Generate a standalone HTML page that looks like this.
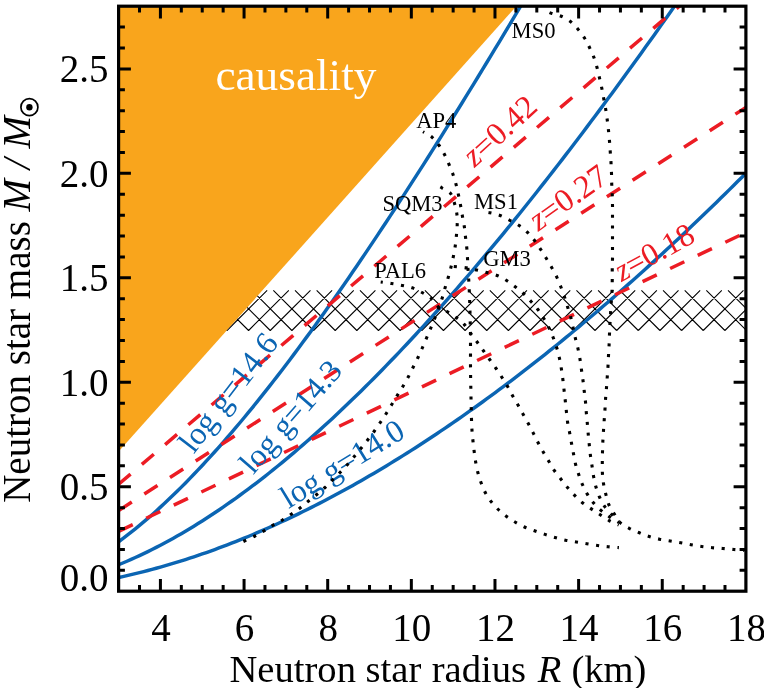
<!DOCTYPE html>
<html lang="en"><head><meta charset="utf-8"><title>Neutron star mass-radius</title>
<style>html,body{margin:0;padding:0;background:#fff}body{width:764px;height:688px;overflow:hidden}svg{display:block;will-change:transform}text{font-family:"Liberation Serif",serif}.tk{font-size:39px;fill:#000}.eos{font-size:22.6px;fill:#000}.bl{fill:#0b65b3}.rd{fill:#ec1c24}</style></head><body>
<svg width="764" height="688" viewBox="0 0 764 688">
<rect width="764" height="688" fill="#fff"/>
<defs><clipPath id="plot"><rect x="118.60" y="6.20" width="627.30" height="585.00"/></clipPath>
<clipPath id="hc"><polygon points="263.44,289.30 745.90,289.30 745.90,331.50 225.73,331.50"/></clipPath></defs>
<polygon points="118.60,6.20 516.40,6.20 118.60,451.40" fill="#f9a51c"/>
<path d="M183.65 330.50 L223.85 290.30 M183.65 330.50 L143.45 290.30 M205.30 330.50 L245.50 290.30 M205.30 330.50 L165.10 290.30 M226.95 330.50 L267.15 290.30 M226.95 330.50 L186.75 290.30 M248.60 330.50 L288.80 290.30 M248.60 330.50 L208.40 290.30 M270.25 330.50 L310.45 290.30 M270.25 330.50 L230.05 290.30 M291.90 330.50 L332.10 290.30 M291.90 330.50 L251.70 290.30 M313.55 330.50 L353.75 290.30 M313.55 330.50 L273.35 290.30 M335.20 330.50 L375.40 290.30 M335.20 330.50 L295.00 290.30 M356.85 330.50 L397.05 290.30 M356.85 330.50 L316.65 290.30 M378.50 330.50 L418.70 290.30 M378.50 330.50 L338.30 290.30 M400.15 330.50 L440.35 290.30 M400.15 330.50 L359.95 290.30 M421.80 330.50 L462.00 290.30 M421.80 330.50 L381.60 290.30 M443.45 330.50 L483.65 290.30 M443.45 330.50 L403.25 290.30 M465.10 330.50 L505.30 290.30 M465.10 330.50 L424.90 290.30 M486.75 330.50 L526.95 290.30 M486.75 330.50 L446.55 290.30 M508.40 330.50 L548.60 290.30 M508.40 330.50 L468.20 290.30 M530.05 330.50 L570.25 290.30 M530.05 330.50 L489.85 290.30 M551.70 330.50 L591.90 290.30 M551.70 330.50 L511.50 290.30 M573.35 330.50 L613.55 290.30 M573.35 330.50 L533.15 290.30 M595.00 330.50 L635.20 290.30 M595.00 330.50 L554.80 290.30 M616.65 330.50 L656.85 290.30 M616.65 330.50 L576.45 290.30 M638.30 330.50 L678.50 290.30 M638.30 330.50 L598.10 290.30 M659.95 330.50 L700.15 290.30 M659.95 330.50 L619.75 290.30 M681.60 330.50 L721.80 290.30 M681.60 330.50 L641.40 290.30 M703.25 330.50 L743.45 290.30 M703.25 330.50 L663.05 290.30 M724.90 330.50 L765.10 290.30 M724.90 330.50 L684.70 290.30 M746.55 330.50 L786.75 290.30 M746.55 330.50 L706.35 290.30 M768.20 330.50 L808.40 290.30 M768.20 330.50 L728.00 290.30" stroke="#000" stroke-width="1.08" fill="none" clip-path="url(#hc)"/>
<text x="215.4" y="89.5" font-size="45.3" fill="#fff">causality</text>
<g clip-path="url(#plot)" fill="none">
<path d="M118.60 541.81 L122.78 538.69 L126.96 535.49 L131.15 532.21 L135.33 528.86 L139.51 525.43 L143.69 521.92 L147.87 518.33 L152.06 514.68 L156.24 510.95 L160.42 507.15 L164.60 503.28 L168.78 499.34 L172.97 495.33 L177.15 491.25 L181.33 487.11 L185.51 482.91 L189.69 478.64 L193.88 474.30 L198.06 469.91 L202.24 465.45 L206.42 460.93 L210.60 456.36 L214.79 451.73 L218.97 447.04 L223.15 442.29 L227.33 437.49 L231.51 432.63 L235.70 427.72 L239.88 422.76 L244.06 417.75 L248.24 412.68 L252.42 407.57 L256.61 402.41 L260.79 397.19 L264.97 391.93 L269.15 386.63 L273.33 381.28 L277.52 375.88 L281.70 370.44 L285.88 364.95 L290.06 359.42 L294.24 353.85 L298.43 348.24 L302.61 342.59 L306.79 336.89 L310.97 331.16 L315.15 325.39 L319.34 319.58 L323.52 313.74 L327.70 307.85 L331.88 301.94 L336.06 295.98 L340.25 289.99 L344.43 283.97 L348.61 277.91 L352.79 271.82 L356.97 265.70 L361.16 259.55 L365.34 253.37 L369.52 247.15 L373.70 240.91 L377.88 234.63 L382.07 228.33 L386.25 222.00 L390.43 215.64 L394.61 209.25 L398.79 202.84 L402.98 196.40 L407.16 189.93 L411.34 183.44 L415.52 176.92 L419.70 170.38 L423.89 163.82 L428.07 157.23 L432.25 150.62 L436.43 143.98 L440.61 137.33 L444.80 130.65 L448.98 123.95 L453.16 117.23 L457.34 110.49 L461.52 103.73 L465.71 96.95 L469.89 90.15 L474.07 83.33 L478.25 76.49 L482.43 69.64 L486.62 62.77 L490.80 55.87 L494.98 48.97 L499.16 42.04 L503.34 35.10 L507.53 28.14 L511.71 21.17 L515.89 14.18 L520.07 7.18 L524.25 0.16 L528.44 -6.87 L532.62 -13.92 L536.80 -20.98 L540.98 -28.06 L545.16 -35.15 L549.35 -42.25 L553.53 -49.36 L557.71 -56.49 L561.89 -63.63 L566.07 -70.78 L570.26 -77.94 L574.44 -85.12 L578.62 -92.31 L582.80 -99.50 L586.98 -106.71 L591.17 -113.93 L595.35 -121.16 L599.53 -128.40 L603.71 -135.64 L607.89 -142.90 L612.08 -150.17 L616.26 -157.45 L620.44 -164.73 L624.62 -172.03 L628.80 -179.33 L632.99 -186.64 L637.17 -193.96 L641.35 -201.29 L645.53 -208.62 L649.71 -215.97 L653.90 -223.32 L658.08 -230.68 L662.26 -238.04 L666.44 -245.41 L670.62 -252.79 L674.81 -260.18 L678.99 -267.57 L683.17 -274.97 L687.35 -282.37 L691.53 -289.79 L695.72 -297.20 L699.90 -304.62 L704.08 -312.05 L708.26 -319.48 L712.44 -326.92 L716.63 -334.37 L720.81 -341.82 L724.99 -349.27 L729.17 -356.73 L733.35 -364.19 L737.54 -371.66 L741.72 -379.13 L745.90 -386.60" stroke="#0b65b3" stroke-width="3.45"/>
<path d="M118.60 564.76 L122.78 563.03 L126.96 561.25 L131.15 559.42 L135.33 557.53 L139.51 555.60 L143.69 553.62 L147.87 551.60 L152.06 549.52 L156.24 547.39 L160.42 545.22 L164.60 543.00 L168.78 540.73 L172.97 538.41 L177.15 536.05 L181.33 533.64 L185.51 531.19 L189.69 528.69 L193.88 526.15 L198.06 523.56 L202.24 520.92 L206.42 518.25 L210.60 515.52 L214.79 512.76 L218.97 509.95 L223.15 507.10 L227.33 504.20 L231.51 501.27 L235.70 498.29 L239.88 495.27 L244.06 492.21 L248.24 489.10 L252.42 485.96 L256.61 482.78 L260.79 479.55 L264.97 476.29 L269.15 472.99 L273.33 469.65 L277.52 466.27 L281.70 462.85 L285.88 459.39 L290.06 455.89 L294.24 452.36 L298.43 448.79 L302.61 445.18 L306.79 441.53 L310.97 437.85 L315.15 434.13 L319.34 430.38 L323.52 426.59 L327.70 422.77 L331.88 418.91 L336.06 415.01 L340.25 411.08 L344.43 407.12 L348.61 403.12 L352.79 399.09 L356.97 395.02 L361.16 390.92 L365.34 386.79 L369.52 382.63 L373.70 378.43 L377.88 374.20 L382.07 369.94 L386.25 365.64 L390.43 361.32 L394.61 356.96 L398.79 352.58 L402.98 348.16 L407.16 343.71 L411.34 339.23 L415.52 334.73 L419.70 330.19 L423.89 325.62 L428.07 321.02 L432.25 316.40 L436.43 311.74 L440.61 307.06 L444.80 302.35 L448.98 297.61 L453.16 292.84 L457.34 288.05 L461.52 283.22 L465.71 278.37 L469.89 273.50 L474.07 268.59 L478.25 263.66 L482.43 258.71 L486.62 253.73 L490.80 248.72 L494.98 243.68 L499.16 238.63 L503.34 233.54 L507.53 228.43 L511.71 223.30 L515.89 218.14 L520.07 212.96 L524.25 207.75 L528.44 202.52 L532.62 197.26 L536.80 191.98 L540.98 186.68 L545.16 181.36 L549.35 176.01 L553.53 170.64 L557.71 165.24 L561.89 159.83 L566.07 154.39 L570.26 148.93 L574.44 143.45 L578.62 137.94 L582.80 132.42 L586.98 126.87 L591.17 121.31 L595.35 115.72 L599.53 110.11 L603.71 104.48 L607.89 98.83 L612.08 93.16 L616.26 87.47 L620.44 81.76 L624.62 76.03 L628.80 70.28 L632.99 64.51 L637.17 58.73 L641.35 52.92 L645.53 47.10 L649.71 41.25 L653.90 35.39 L658.08 29.51 L662.26 23.61 L666.44 17.70 L670.62 11.76 L674.81 5.81 L678.99 -0.16 L683.17 -6.15 L687.35 -12.15 L691.53 -18.17 L695.72 -24.21 L699.90 -30.26 L704.08 -36.34 L708.26 -42.42 L712.44 -48.53 L716.63 -54.65 L720.81 -60.78 L724.99 -66.93 L729.17 -73.10 L733.35 -79.29 L737.54 -85.48 L741.72 -91.70 L745.90 -97.93" stroke="#0b65b3" stroke-width="3.45"/>
<path d="M118.60 577.50 L122.78 576.59 L126.96 575.65 L131.15 574.68 L135.33 573.68 L139.51 572.66 L143.69 571.60 L147.87 570.52 L152.06 569.41 L156.24 568.28 L160.42 567.11 L164.60 565.92 L168.78 564.70 L172.97 563.46 L177.15 562.18 L181.33 560.88 L185.51 559.56 L189.69 558.20 L193.88 556.82 L198.06 555.41 L202.24 553.98 L206.42 552.52 L210.60 551.03 L214.79 549.52 L218.97 547.98 L223.15 546.41 L227.33 544.82 L231.51 543.20 L235.70 541.56 L239.88 539.89 L244.06 538.20 L248.24 536.48 L252.42 534.73 L256.61 532.96 L260.79 531.16 L264.97 529.34 L269.15 527.49 L273.33 525.62 L277.52 523.72 L281.70 521.80 L285.88 519.85 L290.06 517.88 L294.24 515.88 L298.43 513.86 L302.61 511.82 L306.79 509.75 L310.97 507.65 L315.15 505.54 L319.34 503.39 L323.52 501.23 L327.70 499.04 L331.88 496.82 L336.06 494.59 L340.25 492.33 L344.43 490.04 L348.61 487.73 L352.79 485.40 L356.97 483.05 L361.16 480.67 L365.34 478.27 L369.52 475.84 L373.70 473.39 L377.88 470.92 L382.07 468.43 L386.25 465.92 L390.43 463.38 L394.61 460.82 L398.79 458.23 L402.98 455.63 L407.16 453.00 L411.34 450.35 L415.52 447.68 L419.70 444.98 L423.89 442.27 L428.07 439.53 L432.25 436.77 L436.43 433.99 L440.61 431.18 L444.80 428.36 L448.98 425.51 L453.16 422.64 L457.34 419.76 L461.52 416.85 L465.71 413.91 L469.89 410.96 L474.07 407.99 L478.25 404.99 L482.43 401.98 L486.62 398.94 L490.80 395.88 L494.98 392.81 L499.16 389.71 L503.34 386.59 L507.53 383.45 L511.71 380.29 L515.89 377.11 L520.07 373.91 L524.25 370.69 L528.44 367.45 L532.62 364.19 L536.80 360.92 L540.98 357.62 L545.16 354.30 L549.35 350.96 L553.53 347.60 L557.71 344.22 L561.89 340.83 L566.07 337.41 L570.26 333.97 L574.44 330.52 L578.62 327.05 L582.80 323.55 L586.98 320.04 L591.17 316.51 L595.35 312.96 L599.53 309.39 L603.71 305.81 L607.89 302.20 L612.08 298.58 L616.26 294.94 L620.44 291.28 L624.62 287.60 L628.80 283.90 L632.99 280.18 L637.17 276.45 L641.35 272.70 L645.53 268.93 L649.71 265.14 L653.90 261.34 L658.08 257.51 L662.26 253.67 L666.44 249.81 L670.62 245.94 L674.81 242.05 L678.99 238.14 L683.17 234.21 L687.35 230.26 L691.53 226.30 L695.72 222.32 L699.90 218.32 L704.08 214.31 L708.26 210.28 L712.44 206.23 L716.63 202.17 L720.81 198.09 L724.99 193.99 L729.17 189.88 L733.35 185.75 L737.54 181.60 L741.72 177.44 L745.90 173.26" stroke="#0b65b3" stroke-width="3.45"/>
</g>
<g clip-path="url(#plot)" fill="none">
<path d="M118.60 484.24 L745.90 -50.56" stroke="#ec1c24" stroke-width="3.5" stroke-dasharray="15.7 14.85"/>
<path d="M118.60 510.57 L745.90 107.40" stroke="#ec1c24" stroke-width="3.5" stroke-dasharray="15.7 14.85"/>
<path d="M118.60 531.40 L745.90 232.40" stroke="#ec1c24" stroke-width="3.5" stroke-dasharray="15.7 14.85"/>
</g>
<text class="rd" font-size="32.3" transform="translate(474.60 168.00) rotate(-42.30)"><tspan font-style="italic">z</tspan>=0.42</text>
<text class="rd" font-size="32.5" transform="translate(538.20 231.70) rotate(-35.30)"><tspan font-style="italic">z</tspan>=0.27</text>
<text class="rd" font-size="31.8" transform="translate(621.40 282.00) rotate(-28.50)"><tspan font-style="italic">z</tspan>=0.18</text>
<text class="bl" font-size="32.3" transform="translate(193.75 454.45) rotate(-52.30)">log g=14.6</text>
<text class="bl" font-size="31.7" transform="translate(253.30 475.32) rotate(-48.90)">log g=14.3</text>
<text class="bl" font-size="32.0" transform="translate(288.41 508.92) rotate(-31.50)">log g=14.0</text>
<g clip-path="url(#plot)" fill="none">
<path d="M547.00 11.50 C547.83 11.83 549.62 12.71 552.00 13.50 C554.38 14.29 558.12 14.88 561.25 16.25 C564.38 17.62 567.96 19.58 570.75 21.75 C573.54 23.92 575.71 26.54 578.00 29.25 C580.29 31.96 582.58 34.96 584.50 38.00 C586.42 41.04 587.96 44.33 589.50 47.50 C591.04 50.67 592.50 53.67 593.75 57.00 C595.00 60.33 596.04 64.00 597.00 67.50 C597.96 71.00 598.71 74.58 599.50 78.00 C600.29 81.42 601.04 84.54 601.75 88.00 C602.46 91.46 603.08 95.17 603.75 98.75 C604.42 102.33 605.17 105.96 605.75 109.50 C606.33 113.04 606.79 116.50 607.25 120.00 C607.71 123.50 608.12 126.96 608.50 130.50 C608.88 134.04 609.21 137.71 609.50 141.25 C609.79 144.79 610.00 148.18 610.25 151.75 C610.50 155.32 610.79 159.03 611.00 162.70 C611.21 166.37 611.38 170.12 611.50 173.75 C611.62 177.38 611.62 180.96 611.75 184.50 C611.88 188.04 612.12 191.50 612.25 195.00 C612.38 198.50 612.46 201.96 612.50 205.50 C612.54 209.04 612.50 212.67 612.50 216.25 C612.50 219.83 612.50 223.46 612.50 227.00 C612.50 230.54 612.50 233.96 612.50 237.50 C612.50 241.04 612.50 244.67 612.50 248.25 C612.50 251.83 612.54 255.46 612.50 259.00 C612.46 262.54 612.29 265.96 612.25 269.50 C612.21 273.04 612.29 276.62 612.25 280.25 C612.21 283.88 612.16 287.67 612.00 291.25 C611.84 294.83 611.53 298.21 611.30 301.75 C611.07 305.29 610.82 308.92 610.60 312.50 C610.38 316.08 610.18 319.71 610.00 323.25 C609.82 326.79 609.65 330.12 609.50 333.75 C609.35 337.38 609.27 341.38 609.10 345.00 C608.93 348.62 608.68 351.96 608.50 355.50 C608.32 359.04 608.21 362.67 608.00 366.25 C607.79 369.83 607.50 373.46 607.25 377.00 C607.00 380.54 606.77 383.96 606.50 387.50 C606.23 391.04 605.85 394.67 605.60 398.25 C605.35 401.83 605.23 405.46 605.00 409.00 C604.77 412.54 604.50 415.92 604.25 419.50 C604.00 423.08 603.73 426.88 603.50 430.50 C603.27 434.12 603.02 437.67 602.85 441.25 C602.68 444.83 602.59 448.46 602.50 452.00 C602.41 455.54 602.32 458.98 602.30 462.50 C602.28 466.02 602.20 469.58 602.40 473.10 C602.60 476.62 602.93 480.10 603.50 483.60 C604.07 487.10 604.93 490.65 605.80 494.10 C606.67 497.55 607.33 501.07 608.70 504.30 C610.07 507.53 612.18 510.53 614.00 513.50 C615.82 516.47 617.07 519.63 619.60 522.10 C622.13 524.57 625.90 526.52 629.20 528.30 C632.50 530.08 636.07 531.43 639.40 532.80 C642.73 534.17 645.85 535.43 649.20 536.50 C652.55 537.57 656.00 538.45 659.50 539.20 C663.00 539.95 666.67 540.40 670.20 541.00 C673.73 541.60 677.23 542.18 680.70 542.80 C684.17 543.42 687.52 544.08 691.00 544.70 C694.48 545.32 698.05 546.00 701.60 546.50 C705.15 547.00 708.77 547.37 712.30 547.70 C715.83 548.03 719.18 548.20 722.80 548.50 C726.42 548.80 730.38 549.20 734.00 549.50 C737.62 549.80 742.75 550.17 744.50 550.30" stroke="#000" stroke-width="3.1" stroke-dasharray="3.1 7.62" stroke-dashoffset="-2.82"/>
<path d="M481.00 211.50 C482.50 211.72 486.83 212.13 490.00 212.80 C493.17 213.47 496.67 214.22 500.00 215.50 C503.33 216.78 506.88 218.87 510.00 220.50 C513.12 222.13 515.87 223.35 518.75 225.30 C521.63 227.25 524.67 229.67 527.30 232.20 C529.92 234.73 532.25 237.58 534.50 240.50 C536.75 243.42 538.80 246.66 540.80 249.70 C542.80 252.74 544.68 255.78 546.50 258.75 C548.32 261.72 549.97 264.41 551.70 267.50 C553.43 270.59 555.37 274.05 556.90 277.30 C558.43 280.55 559.62 283.68 560.90 287.00 C562.18 290.32 563.47 293.82 564.60 297.20 C565.73 300.58 566.67 303.92 567.70 307.30 C568.73 310.68 569.88 313.97 570.80 317.50 C571.72 321.03 572.47 324.96 573.25 328.50 C574.03 332.04 574.71 335.38 575.50 338.75 C576.29 342.12 577.25 345.33 578.00 348.75 C578.75 352.17 579.42 355.71 580.00 359.25 C580.58 362.79 581.00 366.46 581.50 370.00 C582.00 373.54 582.54 376.96 583.00 380.50 C583.46 384.04 583.83 387.67 584.25 391.25 C584.67 394.83 585.16 398.46 585.50 402.00 C585.84 405.54 586.00 408.97 586.30 412.50 C586.60 416.03 586.97 419.57 587.30 423.20 C587.62 426.82 587.92 430.70 588.25 434.25 C588.58 437.80 588.89 441.01 589.25 444.50 C589.61 447.99 589.94 451.66 590.40 455.20 C590.86 458.74 591.47 462.20 592.00 465.75 C592.53 469.30 592.95 472.99 593.60 476.50 C594.25 480.01 594.92 483.38 595.90 486.80 C596.88 490.22 598.05 493.73 599.50 497.00 C600.95 500.27 602.53 503.47 604.60 506.40 C606.67 509.33 609.50 512.07 611.90 514.60 C614.30 517.13 617.82 520.43 619.00 521.60" stroke="#000" stroke-width="3.1" stroke-dasharray="3.1 7.62" stroke-dashoffset="-7.51"/>
<path d="M453.50 266.40 C455.72 266.65 462.97 267.30 466.80 267.90 C470.63 268.50 473.15 269.22 476.50 270.00 C479.85 270.78 483.48 271.68 486.90 272.60 C490.32 273.52 493.77 274.22 497.00 275.50 C500.23 276.78 503.17 278.38 506.25 280.30 C509.33 282.22 512.54 284.72 515.50 287.00 C518.46 289.28 521.38 291.55 524.00 294.00 C526.62 296.45 528.97 299.15 531.25 301.70 C533.53 304.25 535.66 306.58 537.70 309.30 C539.74 312.02 541.62 314.88 543.50 318.00 C545.38 321.12 547.38 324.70 549.00 328.00 C550.62 331.30 551.96 334.50 553.25 337.80 C554.54 341.10 555.71 344.35 556.75 347.80 C557.79 351.25 558.73 354.97 559.50 358.50 C560.27 362.03 560.83 365.47 561.40 369.00 C561.97 372.53 562.45 376.13 562.90 379.70 C563.35 383.27 563.70 386.85 564.10 390.40 C564.50 393.95 564.92 397.47 565.30 401.00 C565.68 404.53 566.02 408.07 566.40 411.60 C566.78 415.13 567.07 418.72 567.60 422.20 C568.13 425.68 568.95 428.99 569.60 432.50 C570.25 436.01 570.85 439.71 571.50 443.25 C572.15 446.79 572.82 450.23 573.50 453.75 C574.18 457.27 574.73 460.96 575.60 464.40 C576.47 467.84 577.57 471.05 578.70 474.40 C579.83 477.75 580.97 481.22 582.40 484.50 C583.83 487.78 585.47 491.05 587.30 494.10 C589.13 497.15 591.13 500.10 593.40 502.80 C595.67 505.50 598.20 507.95 600.90 510.30 C603.60 512.65 606.60 514.85 609.60 516.90 C612.60 518.95 617.35 521.65 618.90 522.60" stroke="#000" stroke-width="3.1" stroke-dasharray="3.1 7.62" stroke-dashoffset="-0.36"/>
<path d="M380.70 282.00 C382.48 282.25 387.83 282.93 391.40 283.50 C394.97 284.07 398.62 284.68 402.10 285.40 C405.58 286.12 408.98 286.62 412.30 287.80 C415.62 288.98 418.82 290.72 422.00 292.50 C425.18 294.28 428.57 295.98 431.40 298.50 C434.23 301.02 436.25 305.35 439.00 307.60 C441.75 309.85 444.97 310.30 447.90 312.00 C450.83 313.70 453.88 315.73 456.60 317.80 C459.32 319.87 461.85 321.78 464.20 324.40 C466.55 327.02 468.48 330.48 470.70 333.50 C472.92 336.52 475.32 339.54 477.50 342.50 C479.68 345.46 481.67 348.33 483.75 351.25 C485.83 354.17 487.92 357.08 490.00 360.00 C492.08 362.92 494.25 365.83 496.25 368.75 C498.25 371.67 500.12 374.58 502.00 377.50 C503.88 380.42 505.73 383.21 507.50 386.25 C509.27 389.29 510.85 392.62 512.60 395.75 C514.35 398.88 516.23 401.89 518.00 405.00 C519.77 408.11 521.47 411.27 523.20 414.40 C524.93 417.52 526.72 420.63 528.40 423.75 C530.08 426.87 531.66 429.89 533.30 433.10 C534.94 436.31 536.59 439.85 538.25 443.00 C539.91 446.15 541.50 448.96 543.25 452.00 C545.00 455.04 546.89 458.13 548.75 461.25 C550.61 464.37 552.36 467.70 554.40 470.70 C556.44 473.70 558.82 476.45 561.00 479.25 C563.18 482.05 565.27 484.84 567.50 487.50 C569.73 490.16 571.92 492.67 574.40 495.20 C576.88 497.73 579.58 500.42 582.40 502.70 C585.22 504.98 588.33 506.88 591.30 508.90 C594.27 510.92 597.23 512.85 600.20 514.80 C603.17 516.75 606.02 518.90 609.10 520.60 C612.18 522.30 617.10 524.27 618.70 525.00" stroke="#000" stroke-width="3.1" stroke-dasharray="3.1 7.62" stroke-dashoffset="0.97"/>
<path d="M423.00 131.75 C424.46 132.62 429.12 134.79 431.75 137.00 C434.38 139.21 436.62 142.08 438.75 145.00 C440.88 147.92 442.81 151.30 444.50 154.50 C446.19 157.70 447.48 160.88 448.90 164.20 C450.32 167.52 451.80 170.98 453.00 174.40 C454.20 177.82 455.18 181.25 456.10 184.70 C457.02 188.15 457.75 191.62 458.50 195.10 C459.25 198.58 459.95 202.10 460.60 205.60 C461.25 209.10 461.78 212.62 462.40 216.10 C463.02 219.58 463.78 223.02 464.30 226.50 C464.82 229.98 465.09 233.50 465.50 237.00 C465.91 240.50 466.42 243.96 466.75 247.50 C467.08 251.04 467.29 254.71 467.50 258.25 C467.71 261.79 467.79 265.12 468.00 268.75 C468.21 272.38 468.53 276.25 468.75 280.00 C468.97 283.75 469.14 287.58 469.30 291.25 C469.46 294.92 469.58 298.46 469.70 302.00 C469.82 305.54 469.91 308.96 470.00 312.50 C470.09 316.04 470.17 319.71 470.25 323.25 C470.33 326.79 470.46 330.21 470.50 333.75 C470.54 337.29 470.50 340.96 470.50 344.50 C470.50 348.04 470.50 351.46 470.50 355.00 C470.50 358.54 470.48 362.21 470.50 365.75 C470.52 369.29 470.55 372.71 470.60 376.25 C470.65 379.79 470.73 383.46 470.80 387.00 C470.87 390.54 470.93 393.96 471.00 397.50 C471.07 401.04 471.17 404.57 471.25 408.25 C471.33 411.93 471.38 415.89 471.50 419.60 C471.62 423.31 471.75 426.89 472.00 430.50 C472.25 434.11 472.62 437.67 473.00 441.25 C473.38 444.83 473.79 448.46 474.25 452.00 C474.71 455.54 475.12 459.00 475.75 462.50 C476.38 466.00 477.08 469.54 478.00 473.00 C478.92 476.46 480.00 479.92 481.25 483.25 C482.50 486.58 483.83 489.92 485.50 493.00 C487.17 496.08 489.12 499.00 491.25 501.75 C493.38 504.50 495.75 507.08 498.25 509.50 C500.75 511.92 503.46 514.17 506.25 516.25 C509.04 518.33 511.96 520.21 515.00 522.00 C518.04 523.79 521.25 525.54 524.50 527.00 C527.75 528.46 531.08 529.52 534.50 530.75 C537.92 531.98 541.58 533.27 545.00 534.40 C548.42 535.52 551.58 536.53 555.00 537.50 C558.42 538.47 561.96 539.45 565.50 540.20 C569.04 540.95 572.71 541.41 576.25 542.00 C579.79 542.59 583.21 543.17 586.75 543.75 C590.29 544.33 593.96 545.00 597.50 545.50 C601.04 546.00 604.43 546.40 608.00 546.75 C611.57 547.10 617.08 547.46 618.90 547.60" stroke="#000" stroke-width="3.1" stroke-dasharray="3.1 7.62" stroke-dashoffset="-9.11"/>
<path d="M243.00 541.70 C244.92 540.79 250.96 538.08 254.50 536.25 C258.04 534.42 261.12 532.62 264.25 530.75 C267.38 528.88 270.21 526.79 273.25 525.00 C276.29 523.21 279.50 521.79 282.50 520.00 C285.50 518.21 288.33 516.25 291.25 514.25 C294.17 512.25 297.17 510.17 300.00 508.00 C302.83 505.83 305.46 503.50 308.25 501.25 C311.04 499.00 313.96 496.79 316.75 494.50 C319.54 492.21 322.38 489.92 325.00 487.50 C327.62 485.08 330.00 482.50 332.50 480.00 C335.00 477.50 337.50 475.08 340.00 472.50 C342.50 469.92 345.08 467.21 347.50 464.50 C349.92 461.79 352.21 459.00 354.50 456.25 C356.79 453.50 359.00 450.79 361.25 448.00 C363.50 445.21 365.83 442.29 368.00 439.50 C370.17 436.71 372.15 434.17 374.25 431.25 C376.35 428.33 378.60 424.96 380.60 422.00 C382.60 419.04 384.39 416.42 386.25 413.50 C388.11 410.58 389.88 407.58 391.75 404.50 C393.62 401.42 395.62 398.04 397.50 395.00 C399.38 391.96 401.21 389.25 403.00 386.25 C404.79 383.25 406.54 380.21 408.25 377.00 C409.96 373.79 411.62 370.25 413.25 367.00 C414.88 363.75 416.46 360.75 418.00 357.50 C419.54 354.25 421.04 350.83 422.50 347.50 C423.96 344.17 425.37 340.75 426.75 337.50 C428.13 334.25 429.44 331.25 430.80 328.00 C432.16 324.75 433.58 321.35 434.90 318.00 C436.22 314.65 437.48 311.23 438.70 307.90 C439.92 304.57 441.12 301.42 442.20 298.00 C443.28 294.58 444.18 290.87 445.20 287.40 C446.22 283.93 447.33 280.60 448.30 277.20 C449.27 273.80 450.17 270.40 451.00 267.00 C451.83 263.60 452.60 260.25 453.30 256.80 C454.00 253.35 454.68 249.82 455.20 246.30 C455.72 242.78 456.07 239.30 456.40 235.70 C456.73 232.10 457.12 228.28 457.20 224.70 C457.28 221.12 457.33 217.70 456.90 214.20 C456.47 210.70 455.63 207.13 454.60 203.70 C453.57 200.27 452.80 196.22 450.70 193.60 C448.60 190.98 443.75 189.12 442.00 188.00 C440.25 186.88 440.50 187.08 440.20 186.90" stroke="#000" stroke-width="3.1" stroke-dasharray="3.1 7.62" stroke-dashoffset="-0.53"/>
</g>
<text class="eos" x="511.60" y="37.60">MS0</text>
<text class="eos" x="416.20" y="127.80">AP4</text>
<text class="eos" x="382.40" y="210.80">SQM3</text>
<text class="eos" x="474.00" y="208.80">MS1</text>
<text class="eos" x="374.20" y="277.60">PAL6</text>
<text class="eos" x="483.20" y="266.30">GM3</text>
<path d="M139.51 591.20 v-6.30 M139.51 6.20 v6.30 M160.42 591.20 v-12.30 M160.42 6.20 v12.30 M181.33 591.20 v-6.30 M181.33 6.20 v6.30 M202.24 591.20 v-6.30 M202.24 6.20 v6.30 M223.15 591.20 v-6.30 M223.15 6.20 v6.30 M244.06 591.20 v-12.30 M244.06 6.20 v12.30 M264.97 591.20 v-6.30 M264.97 6.20 v6.30 M285.88 591.20 v-6.30 M285.88 6.20 v6.30 M306.79 591.20 v-6.30 M306.79 6.20 v6.30 M327.70 591.20 v-12.30 M327.70 6.20 v12.30 M348.61 591.20 v-6.30 M348.61 6.20 v6.30 M369.52 591.20 v-6.30 M369.52 6.20 v6.30 M390.43 591.20 v-6.30 M390.43 6.20 v6.30 M411.34 591.20 v-12.30 M411.34 6.20 v12.30 M432.25 591.20 v-6.30 M432.25 6.20 v6.30 M453.16 591.20 v-6.30 M453.16 6.20 v6.30 M474.07 591.20 v-6.30 M474.07 6.20 v6.30 M494.98 591.20 v-12.30 M494.98 6.20 v12.30 M515.89 591.20 v-6.30 M515.89 6.20 v6.30 M536.80 591.20 v-6.30 M536.80 6.20 v6.30 M557.71 591.20 v-6.30 M557.71 6.20 v6.30 M578.62 591.20 v-12.30 M578.62 6.20 v12.30 M599.53 591.20 v-6.30 M599.53 6.20 v6.30 M620.44 591.20 v-6.30 M620.44 6.20 v6.30 M641.35 591.20 v-6.30 M641.35 6.20 v6.30 M662.26 591.20 v-12.30 M662.26 6.20 v12.30 M683.17 591.20 v-6.30 M683.17 6.20 v6.30 M704.08 591.20 v-6.30 M704.08 6.20 v6.30 M724.99 591.20 v-6.30 M724.99 6.20 v6.30 M118.60 570.31 h6.30 M745.90 570.31 h-6.30 M118.60 549.41 h6.30 M745.90 549.41 h-6.30 M118.60 528.52 h6.30 M745.90 528.52 h-6.30 M118.60 507.63 h6.30 M745.90 507.63 h-6.30 M118.60 486.74 h12.30 M745.90 486.74 h-12.30 M118.60 465.84 h6.30 M745.90 465.84 h-6.30 M118.60 444.95 h6.30 M745.90 444.95 h-6.30 M118.60 424.06 h6.30 M745.90 424.06 h-6.30 M118.60 403.16 h6.30 M745.90 403.16 h-6.30 M118.60 382.27 h12.30 M745.90 382.27 h-12.30 M118.60 361.38 h6.30 M745.90 361.38 h-6.30 M118.60 340.49 h6.30 M745.90 340.49 h-6.30 M118.60 319.59 h6.30 M745.90 319.59 h-6.30 M118.60 298.70 h6.30 M745.90 298.70 h-6.30 M118.60 277.81 h12.30 M745.90 277.81 h-12.30 M118.60 256.91 h6.30 M745.90 256.91 h-6.30 M118.60 236.02 h6.30 M745.90 236.02 h-6.30 M118.60 215.13 h6.30 M745.90 215.13 h-6.30 M118.60 194.24 h6.30 M745.90 194.24 h-6.30 M118.60 173.34 h12.30 M745.90 173.34 h-12.30 M118.60 152.45 h6.30 M745.90 152.45 h-6.30 M118.60 131.56 h6.30 M745.90 131.56 h-6.30 M118.60 110.66 h6.30 M745.90 110.66 h-6.30 M118.60 89.77 h6.30 M745.90 89.77 h-6.30 M118.60 68.88 h12.30 M745.90 68.88 h-12.30 M118.60 47.99 h6.30 M745.90 47.99 h-6.30 M118.60 27.09 h6.30 M745.90 27.09 h-6.30" stroke="#000" stroke-width="3" fill="none"/>
<rect x="118.60" y="6.20" width="627.30" height="585.00" fill="none" stroke="#000" stroke-width="3.2"/>
<text class="tk" x="160.92" y="640.8" text-anchor="middle">4</text>
<text class="tk" x="244.56" y="640.8" text-anchor="middle">6</text>
<text class="tk" x="328.20" y="640.8" text-anchor="middle">8</text>
<text class="tk" x="411.84" y="640.8" text-anchor="middle">10</text>
<text class="tk" x="495.48" y="640.8" text-anchor="middle">12</text>
<text class="tk" x="579.12" y="640.8" text-anchor="middle">14</text>
<text class="tk" x="662.76" y="640.8" text-anchor="middle">16</text>
<text class="tk" x="746.40" y="640.8" text-anchor="middle">18</text>
<text class="tk" x="108.4" y="500.24" text-anchor="end">0.5</text>
<text class="tk" x="108.4" y="395.77" text-anchor="end">1.0</text>
<text class="tk" x="108.4" y="291.31" text-anchor="end">1.5</text>
<text class="tk" x="108.4" y="186.84" text-anchor="end">2.0</text>
<text class="tk" x="108.4" y="82.38" text-anchor="end">2.5</text>
<text class="tk" x="108.4" y="591.4" text-anchor="end">0.0</text>
<text x="229.5" y="682.0" font-size="38.6" fill="#000">Neutron star <tspan dx="0.8">radius</tspan> <tspan font-style="italic" dx="2.0">R</tspan> <tspan dx="0.6">(km)</tspan></text>
<g transform="translate(29.9 502.8) rotate(-90)"><text x="0" y="0" font-size="39" fill="#000">Neutron star mass <tspan font-style="italic">M / M</tspan></text><circle cx="395.6" cy="-0.5" r="8.5" fill="none" stroke="#000" stroke-width="1.7"/><circle cx="395.6" cy="-0.5" r="3.2" fill="#000"/></g>
</svg></body></html>
